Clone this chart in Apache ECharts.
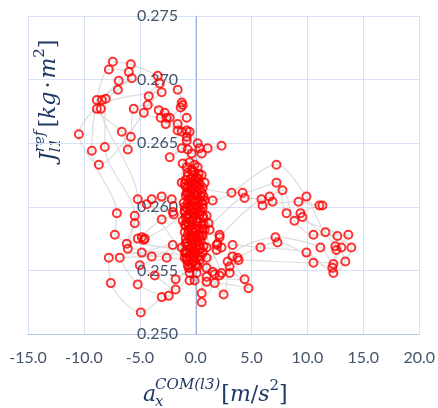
<!DOCTYPE html>
<html>
<head>
<meta charset="utf-8">
<script src="https://cdn.jsdelivr.net/npm/echarts@6/dist/echarts.min.js"></script>
<style>
html,body{margin:0;padding:0;background:#fff;}
#chart{width:438px;height:408px;}
</style>
</head>
<body>
<div id="chart"></div>
<script>
// Acceleration a_x^{COM(l3)} [m/s^2] (trajectory order)
const accX = [
  -7.41,-5.80,-3.39,-1.61,-1.25,-0.80,-0.80,0.18,-1.16,-1.25,-0.54,0.18,1.52,7.23,9.91,11.61,13.93,12.32,9.91,5.80,3.30,2.50,-0.27,-2.05,-4.82,-7.77,-7.59,-4.91,-3.04,-0.09,-7.23,-7.05,-9.29,-8.84,-7.77,
  -5.98,-6.88,-8.39,-10.45,-8.66,-3.21,-4.20,-3.30,-1.61,-0.54,0.36,-0.54,0.18,-0.09,0.63,3.21,4.20,7.23,8.13,12.68,12.50,12.32,11.16,7.14,3.30,4.38,0.98,0.18,-1.25,-3.93,-6.79,-5.18,-2.41,-1.79,0.36,-6.16,-5.45,-8.13,-8.04,-5.71,
  -6.96,-8.84,-6.61,-6.07,-5.80,-5.54,-4.29,-2.77,-3.13,-1.61,-0.80,-1.25,0.54,-0.09,0.54,-0.71,-0.45,0.98,1.16,4.38,5.89,7.77,8.84,10.54,13.66,13.04,13.39,10.54,3.84,2.86,4.73,0.98,0.54,0.63,-0.80,-2.59,-5.00,-3.66,-1.79,-0.36,-6.07,-5.45,-5.18,-8.48,-3.04,
  -4.64,-2.59,-2.32,-2.68,-1.16,-1.34,-1.25,-0.80,-2.32,-0.71,-0.36,1.07,2.32,-0.36,-0.27,-0.80,0.09,0.36,0.00,0.45,1.25,0.54,2.14,2.14,6.61,6.88,5.98,9.20,11.07,11.34,9.38,9.55,12.59,12.23,7.32,3.75,3.04,3.04,1.70,2.14,1.70,0.54,-0.54,-0.98,-0.80,-3.93,-3.04,-2.14,-4.38,-2.05,-1.96,-3.04,-5.18,-4.82,-4.55,-4.64,-0.98,
  -0.89,0.80,-0.71,-0.27,0.18,0.63,-0.98,-0.54,-0.09,0.36,0.71,-0.80,-0.36,0.09,0.54,-0.63,-0.18,0.27,-0.89,-0.45,0.00,0.45,-0.71,-0.89,0.80,-0.27,
  1.88,1.88,0.98,0.98,0.98,1.96,2.32,-0.54,-0.54,0.09,-0.09,-0.71,0.09,1.52,2.32,
  -0.98,0.09,-0.45,0.54,-0.80,-0.09,-0.63,0.27,-1.07,-0.18,0.63,-0.80,0.00,-0.45,0.45,-0.89,-0.27,0.18,-0.63,0.63,-0.09,-0.98,-0.45,0.36,0.00,-0.80,-0.27,0.27,0.71,-0.54,-0.89,0.00,0.45,-0.80,-0.18,0.18,-0.63,-0.27,-0.71,-0.18,0.27,0.80,-0.89,0.71,-1.16,
  -0.71,-0.18,0.27,-0.45,0.00,-0.89,-0.36,0.36,-0.71,0.09,-0.36,0.54,-0.98,-0.54,0.27,-0.18,-0.71,0.63,-0.36,0.09,-0.98,0.36,-0.36,-0.71,0.09,-0.36,0.63,-0.89,0.00,-0.45,0.45,-0.80,-0.27,0.18,-0.63,0.00,-0.45,-0.98,0.71,-0.54
];
// Inertia J_{l1}^{ref} [kg·m^2] (same order)
const inertiaJ = [
  0.2714,0.2712,0.2703,0.2692,0.2682,0.2670,0.2660,0.2650,0.2634,0.2619,0.2619,0.2611,0.2605,0.2633,0.2608,0.2580,0.2568,0.2548,0.2564,0.2568,0.2570,0.2531,0.2568,0.2570,0.2564,0.2560,0.2540,0.2517,0.2529,0.2560,0.2578,0.2595,0.2644,0.2684,0.2708,
  0.2706,0.2699,0.2684,0.2657,0.2633,0.2697,0.2687,0.2676,0.2665,0.2659,0.2646,0.2635,0.2631,0.2621,0.2615,0.2611,0.2611,0.2619,0.2595,0.2577,0.2569,0.2555,0.2568,0.2576,0.2561,0.2543,0.2545,0.2566,0.2568,0.2561,0.2560,0.2539,0.2530,0.2543,0.2558,0.2571,0.2593,0.2647,0.2685,0.2701,
  0.2692,0.2677,0.2659,0.2645,0.2655,0.2677,0.2680,0.2674,0.2670,0.2660,0.2655,0.2646,0.2642,0.2633,0.2625,0.2615,0.2608,0.2593,0.2587,0.2607,0.2606,0.2613,0.2589,0.2578,0.2578,0.2568,0.2557,0.2556,0.2558,0.2557,0.2536,0.2541,0.2532,0.2564,0.2572,0.2560,0.2554,0.2546,0.2535,0.2555,0.2567,0.2587,0.2606,0.2677,0.2690,
  0.2674,0.2670,0.2670,0.2665,0.2680,0.2678,0.2659,0.2652,0.2639,0.2645,0.2642,0.2646,0.2648,0.2629,0.2625,0.2631,0.2623,0.2618,0.2606,0.2608,0.2582,0.2578,0.2578,0.2576,0.2608,0.2604,0.2601,0.2604,0.2601,0.2601,0.2595,0.2592,0.2566,0.2552,0.2572,0.2560,0.2553,0.2548,0.2547,0.2546,0.2540,0.2525,0.2561,0.2564,0.2560,0.2606,0.2608,0.2606,0.2602,0.2596,0.2594,0.2590,0.2575,0.2576,0.2575,0.2574,0.2597,
  0.2609,0.2605,0.2603,0.2601,0.2600,0.2599,0.2596,0.2594,0.2593,0.2594,0.2591,0.2588,0.2586,0.2585,0.2586,0.2582,0.2580,0.2578,0.2575,0.2574,0.2572,0.2574,0.2569,0.2585,0.2582,0.2613,
  0.2570,0.2566,0.2552,0.2560,0.2568,0.2571,0.2568,0.2548,0.2542,0.2548,0.2542,0.2554,0.2554,0.2549,0.2548,
  0.2618,0.2616,0.2614,0.2611,0.2611,0.2610,0.2607,0.2604,0.2603,0.2604,0.2602,0.2599,0.2597,0.2597,0.2597,0.2592,0.2590,0.2589,0.2586,0.2583,0.2583,0.2580,0.2578,0.2576,0.2577,0.2572,0.2571,0.2570,0.2569,0.2566,0.2565,0.2564,0.2561,0.2558,0.2557,0.2553,0.2552,0.2564,0.2624,0.2618,0.2622,0.2619,0.2621,0.2608,0.2589,
  0.2627,0.2628,0.2626,0.2622,0.2619,0.2616,0.2616,0.2614,0.2610,0.2609,0.2605,0.2604,0.2600,0.2600,0.2596,0.2595,0.2593,0.2593,0.2589,0.2588,0.2586,0.2582,0.2582,0.2578,0.2575,0.2576,0.2577,0.2571,0.2568,0.2568,0.2567,0.2564,0.2561,0.2561,0.2557,0.2555,0.2552,0.2560,0.2586,0.2611
];
const xTicks = [-15, 20, 5];      // min, max, interval
const yTicks = [0.25, 0.275, 0.005];

const points = accX.map((x, i) => [x, inertiaJ[i]]);

const labelColor = '#44546A';
const titleColor = '#203864';
const serif = '"DejaVu Serif", serif';

// lay out math-like title pieces sequentially (baseline at y = 0)
const mctx = document.createElement('canvas').getContext('2d');
function fontOf(p) { return (p.it ? 'italic ' : '') + p.s + 'px ' + serif; }
function widthOf(p) { mctx.font = fontOf(p); return mctx.measureText(p.t).width; }
function textEl(p, x) {
  return {type: 'text', x: x, y: (p.dy || 0) - 0.36 * p.s,
    style: {text: p.t, font: fontOf(p), fill: titleColor, textVerticalAlign: 'middle', textAlign: 'left'}};
}
function layout(items) {
  const out = []; let x = 0;
  items.forEach(it => {
    if (it.stack) {
      let w = 0;
      it.stack.forEach(p => { out.push(textEl(p, x + (p.dx || 0))); w = Math.max(w, widthOf(p) + (p.dx || 0)); });
      x += w + (it.gap || 0);
    } else {
      out.push(textEl(it, x + (it.dx || 0)));
      x += widthOf(it) + (it.gap || 0);
    }
  });
  return out;
}
const xTitle = layout([
  {t: 'a', s: 22, it: true, gap: -1},
  {stack: [{t: 'x', s: 15, it: true, dy: 5}, {t: 'COM(l3)', s: 15, it: true, dy: -12}], gap: 1},
  {t: '[', s: 22},
  {t: 'm', s: 22, it: true},
  {t: '/', s: 22},
  {t: 's', s: 22, it: true},
  {t: '2', s: 15, dy: -11},
  {t: ']', s: 22}
]);
const yTitle = layout([
  {t: 'J', s: 22, it: true, gap: 0},
  {stack: [{t: 'l1', s: 15, it: true, dy: 5}, {t: 'ref', s: 15, it: true, dy: -11}], gap: 3},
  {t: '[', s: 22},
  {t: 'kg', s: 22, it: true, gap: 3},
  {t: '·', s: 22, gap: 3},
  {t: 'm', s: 22, it: true},
  {t: '2', s: 15, dy: -11},
  {t: ']', s: 22}
]);

const chart = echarts.init(document.getElementById('chart'), null, {renderer: 'canvas'});
chart.setOption({
  animation: false,
  backgroundColor: '#ffffff',
  grid: {left: 28, right: 18, top: 16, bottom: 74, containLabel: false},
  xAxis: {
    type: 'value', min: xTicks[0], max: xTicks[1], interval: xTicks[2],
    axisLine: {onZero: false, lineStyle: {color: '#b4c7e7', width: 1}},
    axisTick: {show: false},
    axisLabel: {margin: 16, color: labelColor, fontFamily: 'Lato', fontSize: 16,
      formatter: v => v.toFixed(1)},
    splitLine: {show: true, lineStyle: {color: '#d6e1f3', width: 1}}
  },
  yAxis: {
    type: 'value', min: yTicks[0], max: yTicks[1], interval: yTicks[2],
    offset: -168,
    axisLine: {show: true, onZero: false, lineStyle: {color: '#9db4dd', width: 1}},
    axisTick: {show: false},
    axisLabel: {margin: 18, color: labelColor, fontFamily: 'Lato', fontSize: 16,
      formatter: v => v.toFixed(3)},
    splitLine: {show: true, lineStyle: {color: '#d6e1f3', width: 1}}
  },
  series: [
    {
      type: 'line', data: points, showSymbol: false, smooth: 0.3,
      lineStyle: {color: 'rgba(140,140,140,0.3)', width: 1.2},
      z: 2, silent: true
    },
    {
      type: 'scatter', data: points, symbol: 'circle', symbolSize: 8,
      itemStyle: {color: 'rgba(255,255,255,0)', borderColor: '#ff0000', borderWidth: 2},
      z: 3
    }
  ],
  graphic: [
    {type: 'group', x: 143, y: 403, children: xTitle},
    {type: 'group', x: 57, y: 161, rotation: Math.PI / 2, children: yTitle}
  ]
});
</script>
</body>
</html>
